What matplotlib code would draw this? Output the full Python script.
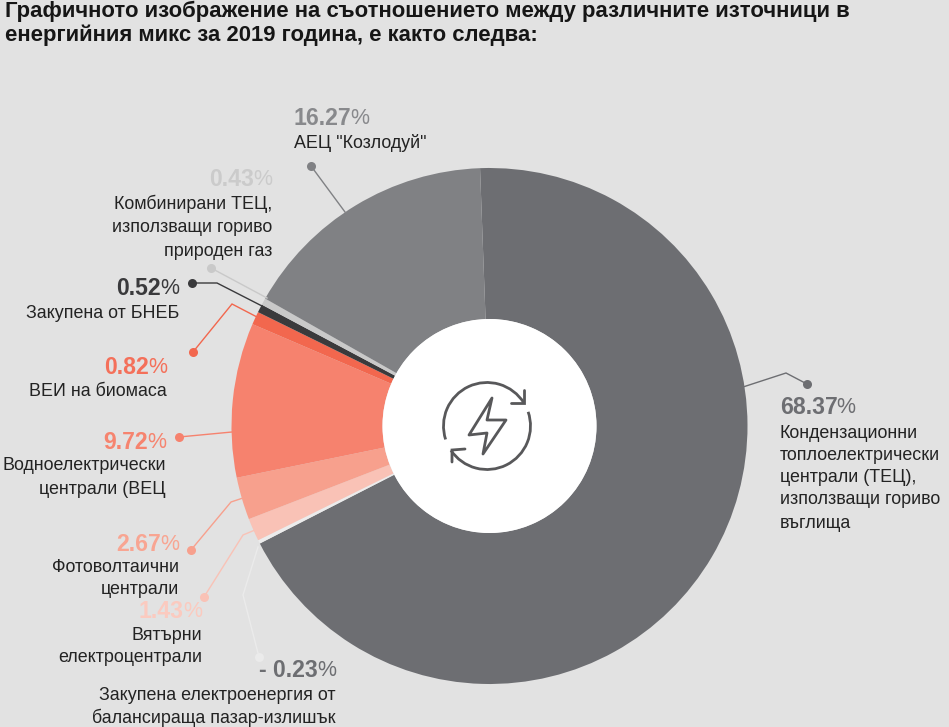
import matplotlib
matplotlib.use("Agg")
import matplotlib.pyplot as plt
from matplotlib.patches import Arc, Polygon, Circle

title_lines = ["Графичното изображение на съотношението между различните източници в",
               "енергийния микс за 2019 година, е както следва:"]
shares = [68.37, -0.23, 1.43, 2.67, 9.72, 0.82, 0.52, 0.43, 16.27]
share_text = ["68.37", "- 0.23", "1.43", "2.67", "9.72", "0.82", "0.52", "0.43", "16.27"]
names = [
    ["Кондензационни", "топлоелектрически", "централи (ТЕЦ),", "използващи гориво", "въглища"],
    ["Закупена електроенергия от", "балансираща пазар-излишък"],
    ["Вятърни", "електроцентрали"],
    ["Фотоволтаични", "централи"],
    ["Водноелектрически", "централи (ВЕЦ"],
    ["ВЕИ на биомаса"],
    ["Закупена от БНЕБ"],
    ["Комбинирани ТЕЦ,", "използващи гориво", "природен газ"],
    ['АЕЦ "Козлодуй"'],
]
slice_colors = ["#6d6e72", "#ececec", "#f9c2b6", "#f7a08d", "#f6826e", "#f2674e", "#3a3a3c", "#c9c9c9", "#808184"]
num_colors = ["#6d6e72", "#6d6e72", "#fbcabf", "#f8a592", "#f6846f", "#f4705a", "#3a3a3c", "#cbcbcb", "#88898c"]
line_colors = ["#6d6e72", "#ebebeb", "#f9c2b6", "#f7a08d", "#f6826e", "#f2674e", "#3a3a3c", "#c9c9c9", "#808184"]

# layout, in pixels from the top left
CX, CY, R, R_IN = 489.5, 426, 258, 107
leaders = [
    [(807, 384), (786, 373), (743, 387)],
    [(259, 657), (243, 595), (258, 547)],
    [(204, 597), (243, 535), (255, 530)],
    [(191, 550), (231, 502), (243, 498)],
    [(179, 437), (232, 432)],
    [(193, 352), (232, 304), (257, 317)],
    [(192, 283), (217, 283), (262, 306)],
    [(211, 268), (267, 298)],
    [(311, 166), (345, 212)],
]
# text anchor x, alignment, number y, y of each name line
label_pos = [
    (780, "left", 405, [433, 455, 478, 500, 523]),
    (336, "right", 668, [695, 718]),
    (202, "right", 609, [635, 658]),
    (179, "right", 542, [567, 590]),
    (166, "right", 440, [466, 489]),
    (167, "right", 365, [392]),
    (179, "right", 286, [313]),
    (272, "right", 177, [204, 227, 251]),
    (294, "left", 116, [143]),
]

W, H = 949, 727
BG = "#e2e2e2"
plt.rcParams["font.family"] = ["Liberation Sans", "DejaVu Sans"]
fig = plt.figure(figsize=(W / 100, H / 100), dpi=100, facecolor=BG)
ax = fig.add_axes([0, 0, 1, 1])
Y = lambda y: H - y

ax.pie([abs(v) for v in shares], colors=slice_colors, startangle=92.1, counterclock=False,
       center=(CX, Y(CY)), radius=R, wedgeprops=dict(width=R - R_IN, linewidth=0))
ax.add_patch(Circle((CX, Y(CY)), R_IN, fc="white", ec="none", zorder=3))
ax.set_xlim(0, W)
ax.set_ylim(0, H)
ax.set_aspect("equal")
ax.axis("off")

for pts, c in zip(leaders, line_colors):
    ax.plot([p[0] for p in pts], [Y(p[1]) for p in pts], color=c, lw=1.0, zorder=4,
            solid_joinstyle="miter")
    ax.plot([pts[0][0]], [Y(pts[0][1])], "o", color=c, ms=6.5, mew=0, zorder=4)

r = fig.canvas.get_renderer()
for txt, nm, col, (x, ha, ny, ys) in zip(share_text, names, num_colors, label_pos):
    if ha == "left":
        a = ax.text(x, Y(ny), txt, color=col, fontsize=16.6, fontweight="bold", ha="left",
                    va="center_baseline")
        e = a.get_window_extent(r)
        ax.text(e.x1 - 1, Y(ny), "%", color=col, fontsize=15.5, ha="left", va="center_baseline")
    else:
        p = ax.text(x, Y(ny), "%", color=col, fontsize=15.5, ha="right", va="center_baseline")
        e = p.get_window_extent(r)
        ax.text(e.x0 + 1, Y(ny), txt, color=col, fontsize=16.6, fontweight="bold", ha="right",
                va="center_baseline")
    for line, y in zip(nm, ys):
        ax.text(x, Y(y), line, color="#232323", fontsize=12.85, ha=ha, va="center")

for line, y in zip(title_lines, (11, 35)):
    ax.text(5, Y(y), line, color="#161616", fontsize=15.9, fontweight="bold", ha="left", va="center")

# central icon
ICON = "#58585a"
ax.add_patch(Arc((487, Y(426)), 87, 87, theta1=32, theta2=198, color=ICON, lw=2.0, zorder=5))
ax.add_patch(Arc((487, Y(426)), 87, 87, theta1=214, theta2=379, color=ICON, lw=2.0, zorder=5))
for pts in ([(524, 390), (524, 403), (511, 403)], [(452, 462), (452, 450), (465, 449)]):
    ax.plot([p[0] for p in pts], [Y(p[1]) for p in pts], color=ICON, lw=2.0, zorder=5,
            solid_capstyle="round", solid_joinstyle="miter")
bolt = [(492, 398), (487, 420), (506, 420), (483, 454), (487, 433), (469, 435)]
ax.add_patch(Polygon([(x, Y(y)) for x, y in bolt], closed=True, fc="none", ec=ICON, lw=2.0, zorder=5,
                     joinstyle="round"))

fig.savefig("out.png", dpi=100, facecolor=BG)
